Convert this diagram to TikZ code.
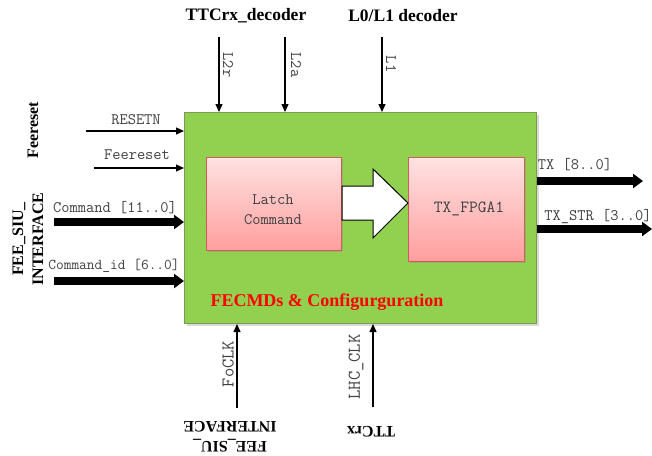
\documentclass[tikz,border=0pt]{standalone}
\usepackage{fontspec}
\setmainfont{Liberation Serif}
\usetikzlibrary{arrows.meta,shadows}
\definecolor{greenfill}{HTML}{92D050}
\definecolor{greenborder}{HTML}{7A9A55}
\definecolor{pinktop}{HTML}{FFE2E2}
\definecolor{pinkbot}{HTML}{FF9E9E}
\definecolor{pinkborder}{HTML}{D55A5A}
\definecolor{lblcol}{HTML}{404040}
\begin{document}
\begin{tikzpicture}[x=1pt,y=-1pt,
  lbl/.style={font=\fontsize{16}{18}\selectfont\ttfamily, text=lblcol, inner sep=0pt},
  biglbl/.style={font=\fontsize{18}{20}\selectfont\ttfamily, text=lblcol, inner sep=0pt},
  boldlbl/.style={font=\fontsize{16}{20}\selectfont\bfseries, inner sep=0pt, align=center},
  thinarr/.style={line width=1.2pt, -{Triangle[length=8pt,width=7pt]}},
  thickarr/.style={line width=8pt, -{Triangle[length=10pt,width=14pt]}},
  pinkbox/.style={draw=pinkborder, line width=1pt, top color=pinktop, bottom color=pinkbot,
     anchor=north west, drop shadow={shadow xshift=1.5pt, shadow yshift=-1.5pt, opacity=0.3}},
]
\useasboundingbox (0,0) rectangle (652,455);

% main block
\node[draw=greenborder, line width=1pt, fill=greenfill, anchor=north west,
      minimum width=352pt, minimum height=211pt, inner sep=0pt,
      drop shadow={shadow xshift=2pt, shadow yshift=-2pt, opacity=0.3}] (main) at (184,112) {};

% inner blocks
\node[pinkbox, minimum width=135pt, minimum height=93pt, inner sep=0pt] (latch) at (206,157) {};
\node[lbl, align=center, font=\fontsize{16}{20}\selectfont\ttfamily] (latchtxt) at (273,210) {Latch\\Command};
\node[pinkbox, minimum width=116pt, minimum height=104pt, inner sep=0pt] (fpga) at (408,157) {};
\node[lbl, font=\fontsize{17}{20}\selectfont\ttfamily] (fpgatxt) at (469,209) {TX\_FPGA1};

% hollow block arrow
\draw[line width=1pt, fill=white] (latch.east |- 0,186) -- (373,186) -- (373,169)
   -- (fpga.west |- 0,203) -- (373,238) -- (373,220) -- (latch.east |- 0,220) -- cycle;

\node[font=\fontsize{18}{20}\selectfont\bfseries, text=red, inner sep=0pt] (title) at (327,302) {FECMDs \& Configurguration};

% top inputs
\node[font=\fontsize{17.5}{20}\selectfont\bfseries, inner sep=0pt] (ttcdec) at (246,16) {TTCrx\_decoder};
\node[font=\fontsize{17.5}{20}\selectfont\bfseries, inner sep=0pt] (l01dec) at (403,16) {L0/L1 decoder};
\coordinate (l2rs) at (219,37);
\coordinate (l2as) at (285,37);
\coordinate (l1s) at (382,37);
\draw[thinarr] (l2rs) -- (l2rs |- main.north);
\draw[thinarr] (l2as) -- (l2as |- main.north);
\draw[thinarr] (l1s) -- (l1s |- main.north);
\node[lbl, rotate=-90] (l2rl) at (228,65) {L2r};
\node[lbl, rotate=-90] (l2al) at (296,65) {L2a};
\node[lbl, rotate=-90] (l1l) at (391,64) {L1};

% left inputs
\coordinate (rsts) at (86,131);
\coordinate (fees) at (94,168);
\coordinate (cmds) at (54,222);
\coordinate (cids) at (54,281);
\draw[thinarr] (rsts) -- (rsts -| main.west);
\draw[thinarr] (fees) -- (fees -| main.west);
\draw[thickarr] (cmds) -- (cmds -| main.west);
\draw[thickarr] (cids) -- (cids -| main.west);
\node[lbl] (rstl) at (136,120) {RESETN};
\node[lbl] (feel) at (137,155) {Feereset};
\node[lbl] (cmdl) at (115,208) {Command [11..0]};
\node[lbl, font=\fontsize{15}{18}\selectfont\ttfamily] (cidl) at (114,266) {Command\_id [6..0]};
\node[boldlbl, rotate=90] (feerot) at (33,130) {Feereset};
\node[boldlbl, rotate=90] (siuleft) at (28,239) {FEE\_SIU\_\\INTERFACE};

% right outputs
\coordinate (txe) at (643,181);
\coordinate (txse) at (652,229);
\draw[thickarr] (txe -| main.east) -- (txe);
\draw[thickarr] (txse -| main.east) -- (txse);
\node[lbl] (txl) at (575,165) {TX [8..0]};
\node[lbl] (txsl) at (598,217) {TX\_STR [3..0]};

% bottom inputs
\coordinate (focs) at (237,408);
\coordinate (lhcs) at (373,407);
\draw[thinarr] (focs) -- (focs |- main.south);
\draw[thinarr] (lhcs) -- (lhcs |- main.south);
\node[biglbl, rotate=90] (focl) at (228,364) {FoCLK};
\node[biglbl, rotate=90] (lhcl) at (356,367) {LHC\_CLK};
\node[boldlbl, rotate=180] (siubot) at (230,437) {FEE\_SIU\_\\INTERFACE};
\node[boldlbl, rotate=180] (ttcrx) at (371,432) {TTCrx};
\end{tikzpicture}
\end{document}
